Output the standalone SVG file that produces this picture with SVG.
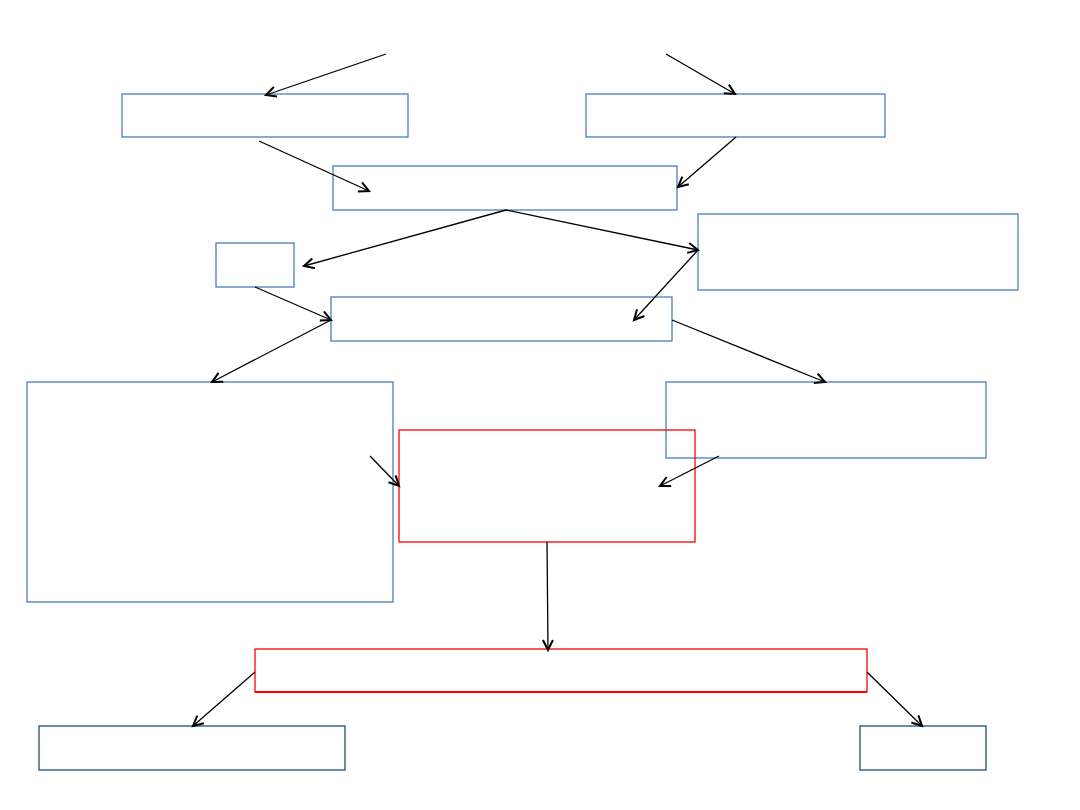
<svg xmlns="http://www.w3.org/2000/svg" width="1080" height="810" viewBox="0 0 1080 810">
<style>
.b{fill:#fff;stroke:#4a7ebb;stroke-width:1.3}
.r{fill:#fff;stroke:#ff0000;stroke-width:1.3}
.d{fill:#fff;stroke:#1f4e79;stroke-width:1.3}
.c line{stroke:#000;stroke-width:1.3;marker-end:url(#a)}
</style>
<defs>
<marker id="a" markerUnits="userSpaceOnUse" markerWidth="16" markerHeight="16" refX="11" refY="6" orient="auto">
<path d="M1,1 L11,6 L1,11" fill="none" stroke="#000" stroke-width="2"/>
</marker>
</defs>
<rect width="1080" height="810" fill="#fff"/>
<g id="nA"><rect class="b" x="122" y="94" width="286" height="43"/></g>
<g id="nB"><rect class="b" x="586" y="94" width="299" height="43"/></g>
<g id="nC"><rect class="b" x="333" y="166" width="344" height="44"/></g>
<g id="nD"><rect class="b" x="216" y="243" width="78" height="44"/></g>
<g id="nE"><rect class="b" x="698" y="214" width="320" height="76"/></g>
<g id="nF"><rect class="b" x="331" y="297" width="341" height="44"/></g>
<g id="nG"><rect class="b" x="27" y="382" width="366" height="220"/></g>
<g id="nI"><rect class="b" x="666" y="382" width="320" height="76"/></g>
<g id="nH"><rect class="r" x="399" y="430" width="296" height="112" fill-opacity="0"/></g>
<g id="nJ"><rect class="r" x="255" y="649" width="612" height="43"/><line x1="255" y1="692" x2="867" y2="692" stroke="#ff0000" stroke-width="2"/></g>
<g id="nK"><rect class="d" x="39" y="726" width="306" height="44"/></g>
<g id="nL"><rect class="d" x="860" y="726" width="126" height="44"/></g>
<g id="connectors" class="c">
<line x1="386" y1="54" x2="266" y2="95"/>
<line x1="666" y1="54" x2="735" y2="94"/>
<line x1="259" y1="141" x2="369" y2="191"/>
<line x1="736" y1="137" x2="678" y2="187"/>
<line x1="506" y1="210" x2="304" y2="266"/>
<line x1="506" y1="210" x2="698" y2="250"/>
<line x1="698" y1="250" x2="634" y2="320"/>
<line x1="255" y1="287" x2="331" y2="320"/>
<line x1="331" y1="320" x2="212" y2="382"/>
<line x1="672" y1="320" x2="825" y2="382"/>
<line x1="370" y1="456" x2="399" y2="486"/>
<line x1="719" y1="456" x2="660" y2="486"/>
<line x1="547" y1="542" x2="548" y2="650"/>
<line x1="255" y1="672" x2="193" y2="726"/>
<line x1="867" y1="672" x2="922" y2="726"/>
</g>
</svg>
